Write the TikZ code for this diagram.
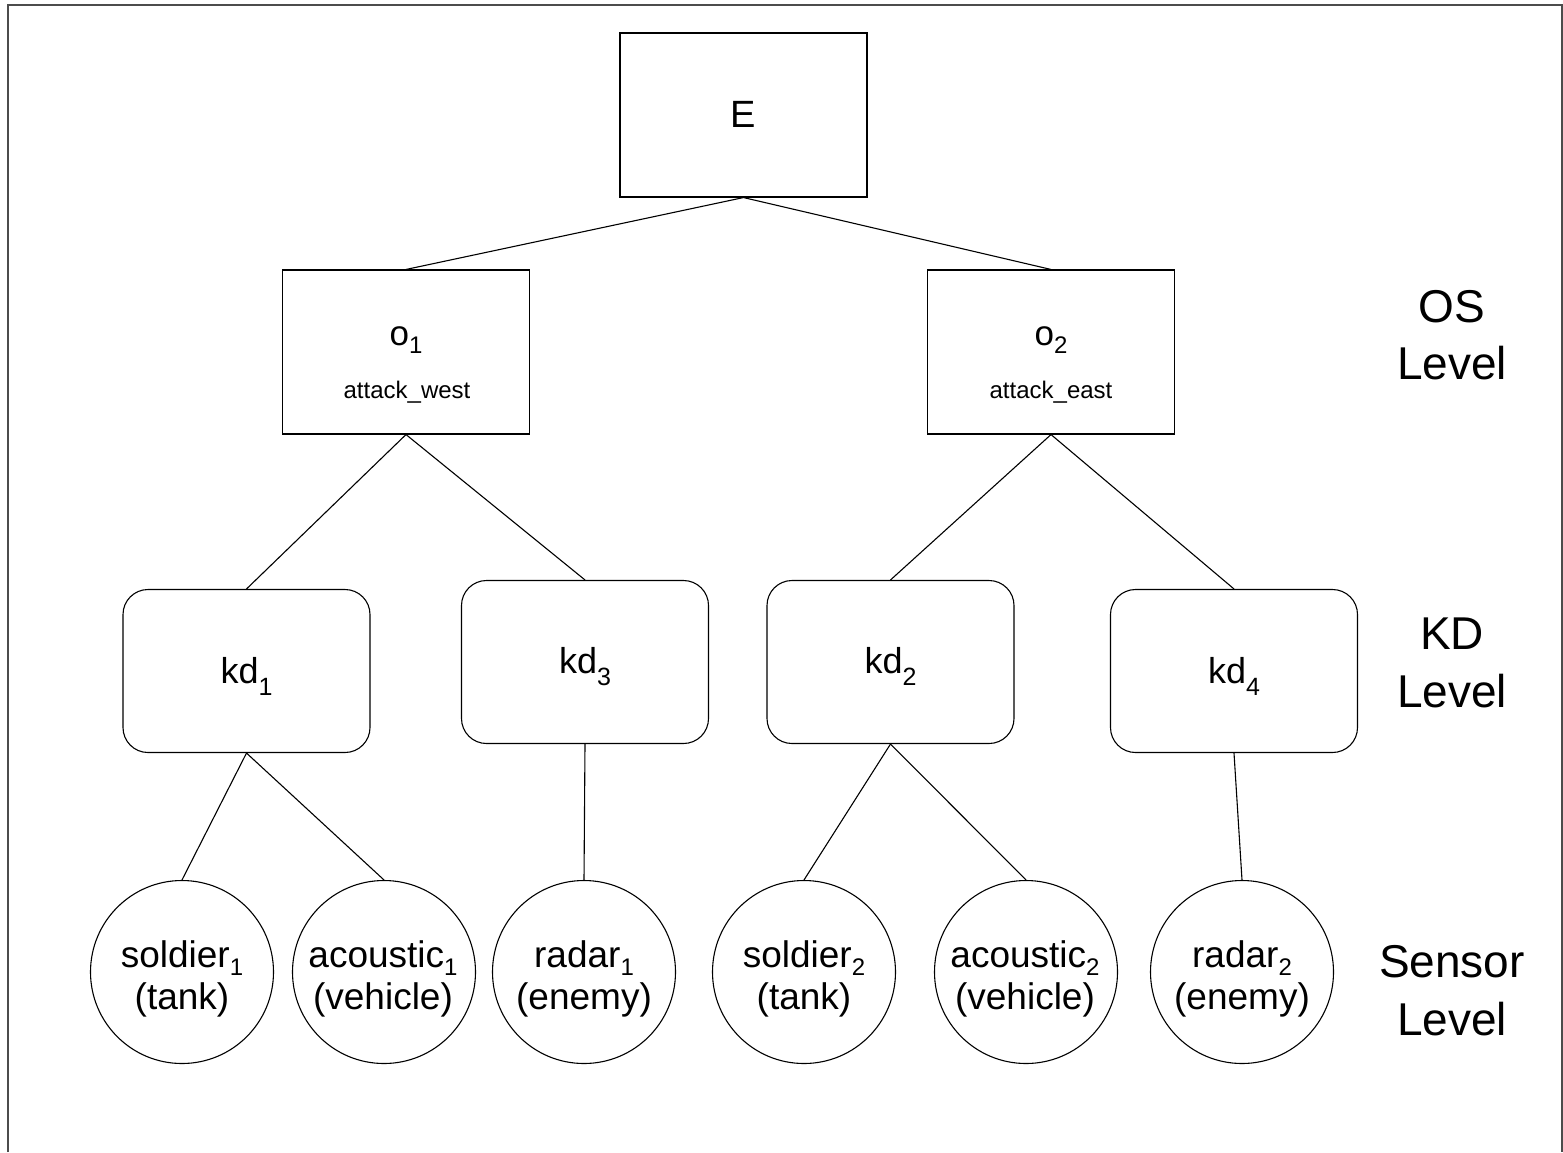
\documentclass[tikz,border=0pt]{standalone}
\usepackage{fontspec}
\setmainfont{Liberation Sans}
\newcommand\lowsub[3][24]{\raisebox{-#2pt}{\fontsize{#1}{#1}\selectfont #3}}
\begin{document}
\begin{tikzpicture}[x=1pt,y=-1pt,
  box/.style={draw, line width=1.1pt, minimum width=247pt, minimum height=164pt, inner sep=0pt},
  kdbox/.style={box, rounded corners=25pt, minimum height=163pt},
  sensor/.style={draw, circle, line width=1.1pt, minimum size=183pt, inner sep=0pt},
  txt/.style={anchor=base, inner sep=0pt},
  big/.style={txt, font=\fontsize{38}{38}\selectfont},
  otxt/.style={txt, font=\fontsize{35}{35}\selectfont},
  small/.style={txt, font=\fontsize{24}{24}\selectfont},
  kdtxt/.style={txt, font=\fontsize{36}{36}\selectfont},
  stxt/.style={txt, font=\fontsize{37}{37}\selectfont},
  lvl/.style={txt, font=\fontsize{46}{46}\selectfont},
  link/.style={line width=1.1pt},
  frame/.style={line width=2pt, black!70}]
\useasboundingbox (0,0) rectangle (1563,1152);
\draw[frame] (8,1152) -- (8,5) -- (1562,5) -- (1562,1152);

% top
\node[box] (E) at (743.5,115) {};
\node[big] (Et) at (743.5,127) {E};

% OS level
\node[box] (o1) at (406,352) {};
\node[otxt] (o1a) at (406,345) {o\lowsub{8}{1}};
\node[small] (o1b) at (407,398) {attack\_west};
\node[box] (o2) at (1051,352) {};
\node[otxt] (o2a) at (1051,345) {o\lowsub{8}{2}};
\node[small] (o2b) at (1051,398) {attack\_east};

% KD level
\node[kdbox] (kd1) at (246.5,671) {};
\node[kdtxt] (kd1t) at (246.5,683) {kd\lowsub[25]{12}{1}};
\node[kdbox] (kd3) at (585,662) {};
\node[kdtxt] (kd3t) at (585,673) {kd\lowsub[25]{12}{3}};
\node[kdbox] (kd2) at (890.5,662) {};
\node[kdtxt] (kd2t) at (890.5,673) {kd\lowsub[25]{12}{2}};
\node[kdbox] (kd4) at (1234,671) {};
\node[kdtxt] (kd4t) at (1234,683) {kd\lowsub[25]{12}{4}};

% sensor level
\node[sensor] (s1) at (182,972) {};
\node[stxt] (s1a) at (182,967) {soldier\lowsub{8}{1}};
\node[stxt] (s1b) at (182,1009) {(tank)};
\node[sensor] (a1) at (384,972) {};
\node[stxt] (a1a) at (383,967) {acoustic\lowsub{8}{1}};
\node[stxt] (a1b) at (383,1009) {(vehicle)};
\node[sensor] (r1) at (584,972) {};
\node[stxt] (r1a) at (584,967) {radar\lowsub{8}{1}};
\node[stxt] (r1b) at (584,1009) {(enemy)};
\node[sensor] (s2) at (804,972) {};
\node[stxt] (s2a) at (804,967) {soldier\lowsub{8}{2}};
\node[stxt] (s2b) at (804,1009) {(tank)};
\node[sensor] (a2) at (1026,972) {};
\node[stxt] (a2a) at (1025,967) {acoustic\lowsub{8}{2}};
\node[stxt] (a2b) at (1025,1009) {(vehicle)};
\node[sensor] (r2) at (1242,972) {};
\node[stxt] (r2a) at (1242,967) {radar\lowsub{8}{2}};
\node[stxt] (r2b) at (1242,1009) {(enemy)};

% level labels
\node[lvl] (l1a) at (1452,322) {OS};
\node[lvl] (l1b) at (1452,379) {Level};
\node[lvl] (l2a) at (1452,649) {KD};
\node[lvl] (l2b) at (1452,707) {Level};
\node[lvl] (l3a) at (1452,977) {Sensor};
\node[lvl] (l3b) at (1452,1035) {Level};

% connectors
\draw[link] (E.south) -- (o1.north);
\draw[link] (E.south) -- (o2.north);
\draw[link] (o1.south) -- (kd1.north);
\draw[link] (o1.south) -- (kd3.north);
\draw[link] (o2.south) -- (kd2.north);
\draw[link] (o2.south) -- (kd4.north);
\draw[link] (kd1.south) -- (s1.north);
\draw[link] (kd1.south) -- (a1.north);
\draw[link] (kd3.south) -- (r1.north);
\draw[link] (kd2.south) -- (s2.north);
\draw[link] (kd2.south) -- (a2.north);
\draw[link] (kd4.south) -- (r2.north);
\end{tikzpicture}
\end{document}
